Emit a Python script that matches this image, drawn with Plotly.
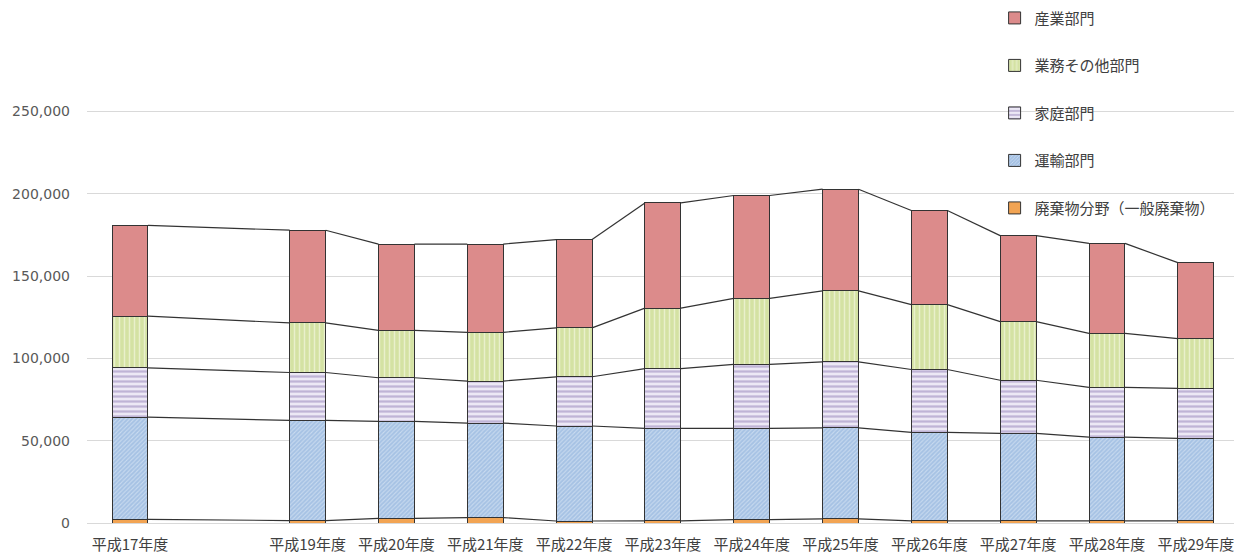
import plotly.graph_objects as go

# 温室効果ガス排出量（部門別）
fiscal_years = [17, 19, 20, 21, 22, 23, 24, 25, 26, 27, 28, 29]
year_labels = [f"平成{y}年度" for y in fiscal_years]

waste = [2200, 1500, 2800, 3300, 1200, 1300, 2000, 2500, 1300, 1300, 1300, 1300]
transport = [62100, 60800, 58900, 57400, 57700, 56200, 55500, 55300, 53700, 53100, 50900, 50100]
household = [29900, 29100, 26500, 25500, 29900, 36200, 38800, 40100, 38200, 32300, 30200, 30300]
business = [31400, 30100, 28800, 29600, 29700, 36800, 40100, 43100, 39400, 35600, 32800, 30300]
industry = [55200, 56300, 52400, 53600, 53600, 63900, 62500, 61700, 57200, 52200, 54600, 46100]

y_ticks = [0, 50000, 100000, 150000, 200000, 250000]

series = [
    dict(name="廃棄物分野（一般廃棄物）", values=waste,
         color="#f2a453", pattern=None),
    dict(name="運輸部門", values=transport, color="#a9c5e6",
         pattern=dict(shape="/", fgcolor="#c9dbf0", bgcolor="#a6c2e4",
                      size=3, solidity=0.35, fillmode="replace")),
    dict(name="家庭部門", values=household, color="#e9e4f2",
         pattern=dict(shape="-", fgcolor="#bfb4d6", bgcolor="#ece8f5",
                      size=5, solidity=0.45, fillmode="replace")),
    dict(name="業務その他部門", values=business, color="#d6e4a6",
         pattern=dict(shape="|", fgcolor="#e9f0cc", bgcolor="#d4e2a3",
                      size=5, solidity=0.3, fillmode="replace")),
    dict(name="産業部門", values=industry, color="#dc8b8b", pattern=None),
]

x_pos = [y - fiscal_years[0] for y in fiscal_years]
bar_w = 0.405

fig = go.Figure()

n_series = len(series)
for i, s in enumerate(series):
    marker = dict(color=s["color"], line=dict(color="#333333", width=1))
    if s["pattern"] is not None:
        marker["pattern"] = s["pattern"]
    fig.add_trace(go.Bar(
        x=x_pos, y=s["values"], name=s["name"], width=bar_w,
        marker=marker, legendgroup=f"g{i}", legendrank=n_series - i,
    ))

# series lines joining the tops of each stacked segment
cum = [0] * len(x_pos)
for s in series:
    cum = [c + v for c, v in zip(cum, s["values"])]
    lx, ly = [], []
    for i in range(len(x_pos) - 1):
        lx += [x_pos[i] + bar_w / 2, x_pos[i + 1] - bar_w / 2, None]
        ly += [cum[i], cum[i + 1], None]
    fig.add_trace(go.Scatter(
        x=lx, y=ly, mode="lines", showlegend=False, hoverinfo="skip",
        line=dict(color="#333333", width=1.2),
    ))

fig.update_layout(
    width=1234, height=554,
    margin=dict(l=87, r=0, t=29, b=31, autoexpand=False),
    barmode="stack",
    paper_bgcolor="white", plot_bgcolor="white",
    font=dict(family="Noto Sans CJK JP", size=15, color="#404040"),
    showlegend=True,
    legend=dict(
        xref="container", yref="container",
        x=0.806, y=0.997, xanchor="left", yanchor="top",
        bgcolor="rgba(0,0,0,0)", traceorder="grouped",
        tracegroupgap=25,
        font=dict(family="Noto Sans CJK JP", size=15, color="#404040"),
    ),
    xaxis=dict(
        range=[-0.484, 12.43], tickmode="array",
        tickvals=x_pos, ticktext=year_labels, tickangle=0,
        showgrid=False, zeroline=False, automargin=False,
        showline=True, linecolor="#d9d9d9", linewidth=1,
        ticks="", ticklabelstandoff=8, ticklabeloverflow="allow",
        tickfont=dict(family="Noto Sans CJK JP", size=15, color="#404040"),
    ),
    yaxis=dict(
        range=[0, 300000], tickmode="array", tickvals=y_ticks,
        ticktext=[f"{v:,}" for v in y_ticks], automargin=False,
        showgrid=True, gridcolor="#d9d9d9", gridwidth=1,
        zeroline=False, ticks="", ticklabelstandoff=16,
        tickfont=dict(family="DejaVu Sans", size=14, color="#595959"),
    ),
)

fig.write_html("out.html")
